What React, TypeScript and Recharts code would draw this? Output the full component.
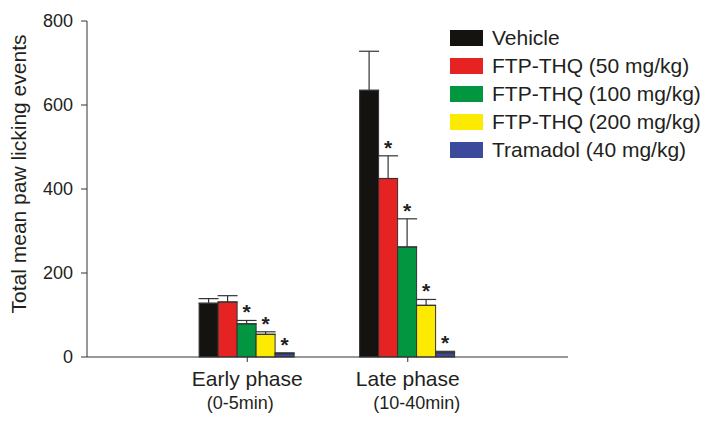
import React from 'react';
import { BarChart, Bar, XAxis, YAxis, ErrorBar, Legend, Label } from 'recharts';

const categories = ['Early phase', 'Late phase'];
const subLabels = ['(0-5min)', '(10-40min)'];

const seriesNames = [
  'Vehicle',
  'FTP-THQ (50 mg/kg)',
  'FTP-THQ (100 mg/kg)',
  'FTP-THQ (200 mg/kg)',
  'Tramadol (40 mg/kg)',
];
const seriesKeys = ['vehicle', 'ftp50', 'ftp100', 'ftp200', 'tramadol'];
const seriesColors = ['#15130f', '#e42322', '#01963f', '#fcea00', '#3c4a9c'];

const vehicle = [128, 635];
const ftp50 = [131, 425];
const ftp100 = [79, 262];
const ftp200 = [54, 123];
const tramadol = [8, 10];

const vehicleSem = [11, 93];
const ftp50Sem = [15, 54];
const ftp100Sem = [8, 67];
const ftp200Sem = [6, 14];
const tramadolSem = [2, 3.5];

// * = significant vs vehicle
const vehicleSig = [false, false];
const ftp50Sig = [false, true];
const ftp100Sig = [true, true];
const ftp200Sig = [true, true];
const tramadolSig = [true, true];

const yTicks = [0, 200, 400, 600, 800];

const values = [vehicle, ftp50, ftp100, ftp200, tramadol];
const sems = [vehicleSem, ftp50Sem, ftp100Sem, ftp200Sem, tramadolSem];
const sigs = [vehicleSig, ftp50Sig, ftp100Sig, ftp200Sig, tramadolSig];

const data = categories.map((name, i) => {
  const row: Record<string, any> = { name, sub: subLabels[i] };
  seriesKeys.forEach((k, s) => {
    row[k] = values[s][i];
    row[k + 'Err'] = [0, sems[s][i]];
  });
  return row;
});

const textColor = '#231f20';
const axisColor = '#333333';
const font = '"Liberation Sans", Arial, sans-serif';

const makeShape = (s: number) => (props: any) => {
  const x = Number(props.x);
  const y = Number(props.y);
  const width = Number(props.width);
  const height = Number(props.height);
  const index = props.index;
  const v = values[s][index];
  const capY = v > 0 ? y - (sems[s][index] * height) / v : y;
  return (
    <g>
      <rect x={x} y={y} width={width} height={height} fill={seriesColors[s]} stroke={axisColor} strokeWidth={1} />
      {sigs[s][index] && (
        <text
          x={x + width / 2}
          y={capY - 1}
          textAnchor="middle"
          fontSize={21}
          fontWeight="bold"
          fontFamily={font}
          fill={textColor}
        >
          *
        </text>
      )}
    </g>
  );
};

const XTick = (props: any) => {
  const { x, y, payload } = props;
  const sub = subLabels[payload.index] ?? data.find((d) => d.name === payload.value)?.sub;
  return (
    <g>
      <text x={x} y={y + 22} textAnchor="middle" fontSize={21} fontFamily={font} fill={textColor}>
        {payload.value}
      </text>
      <text x={x + (payload.index === 1 ? 9 : -7)} y={y + 45} textAnchor="middle" fontSize={18} fontFamily={font} fill={textColor}>
        {sub}
      </text>
    </g>
  );
};

const YLabel = () => (
  <text
    x={18}
    y={174}
    transform="rotate(-90 18 174)"
    textAnchor="middle"
    dominantBaseline="central"
    fontSize={21}
    fontFamily={font}
    fill={textColor}
  >
    Total mean paw licking events
  </text>
);

const LegendBox = () => (
  <div style={{ fontFamily: font, fontSize: 21, color: textColor }}>
    {seriesNames.map((n, i) => (
      <div key={n} style={{ display: 'flex', alignItems: 'center', height: 28 }}>
        <div style={{ width: 33, height: 16, background: seriesColors[i], marginRight: 9 }} />
        <span style={{ whiteSpace: 'nowrap' }}>{n}</span>
      </div>
    ))}
  </div>
);

export default function App() {
  return (
    <div style={{ position: 'absolute', left: 0, top: 0, background: '#fff' }}>
      <BarChart
        width={703}
        height={421}
        data={data}
        margin={{ top: 21, right: 135, bottom: 0, left: 0 }}
        barCategoryGap="20%"
        barGap={0}
      >
        <XAxis
          dataKey="name"
          height={64}
          padding={{ left: 80, right: 80 }}
          stroke={axisColor}
          tickSize={5}
          tick={<XTick />}
          interval={0}
        />
        <YAxis
          width={87}
          domain={[0, 800]}
          ticks={yTicks}
          stroke={axisColor}
          tickSize={6}
          tickMargin={8}
          tick={{ fill: textColor, fontSize: 18, fontFamily: font }}
        >
          <Label content={<YLabel />} />
        </YAxis>
        <Legend
          layout="horizontal"
          verticalAlign="middle"
          align="center"
          content={<LegendBox />}
          wrapperStyle={{ position: 'absolute', left: 450, top: 24, width: 253 }}
        />
        {seriesKeys.map((k, s) => (
          <Bar key={k} dataKey={k} name={seriesNames[s]} fill={seriesColors[s]} shape={makeShape(s)} isAnimationActive={false}>
            <ErrorBar dataKey={k + 'Err'} width={10} stroke={axisColor} strokeWidth={1.2} direction="y" />
          </Bar>
        ))}
      </BarChart>
    </div>
  );
}
